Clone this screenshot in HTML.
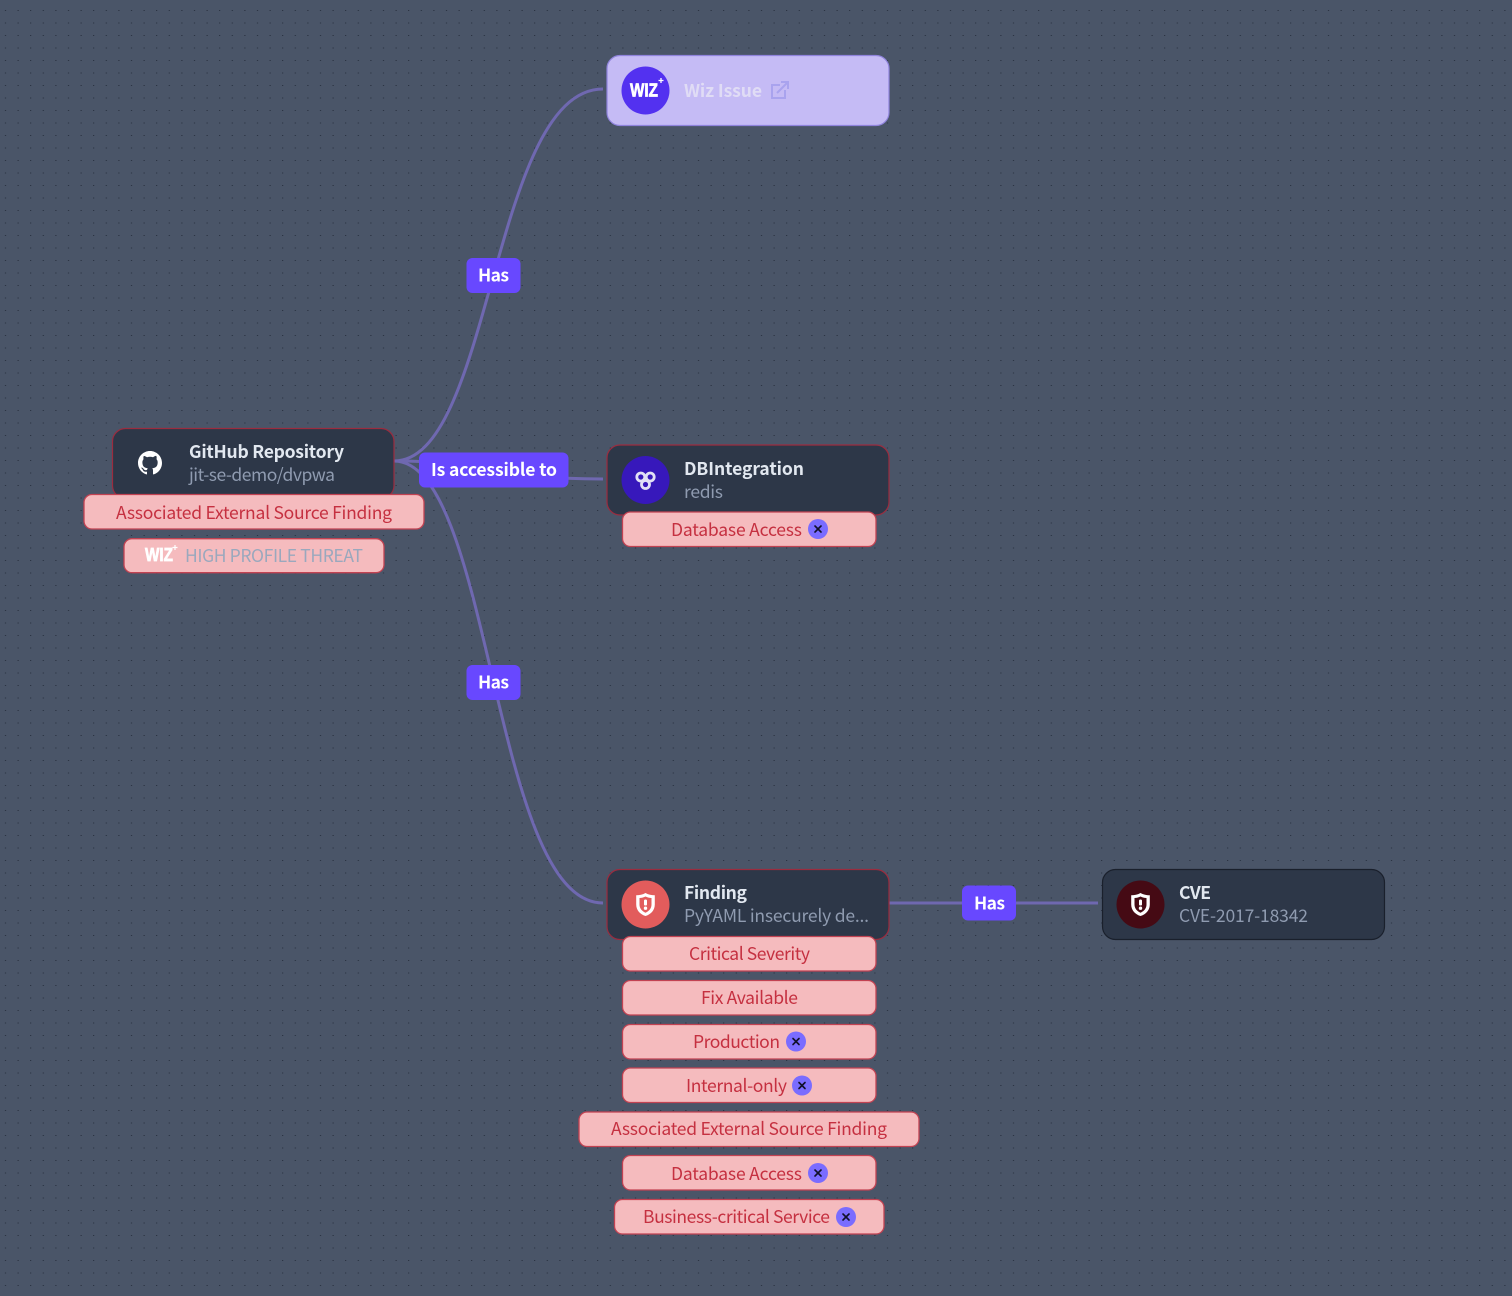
<!DOCTYPE html>
<html><head><meta charset="utf-8"><style>
html,body{margin:0;padding:0;background:#4a5568}
svg{display:block}
text{font-family:"Noto Sans CJK JP","Liberation Sans",sans-serif}
.t{font-size:17.5px;fill:#c53040}
.h{font-size:17.5px;font-weight:700;fill:#e2e8f0}
.s{font-size:17.5px;fill:#8f9bb0}
.l{font-size:17.5px;font-weight:700;fill:#fff}
.tag{fill:#f5bbbe;stroke:#c24252;stroke-width:1.3}
.node{fill:#2d3748;stroke:#9b2c3f;stroke-width:1.2}
.lab{fill:#6848ff}
.e{fill:none;stroke:#6f68b0;stroke-width:3}
.xb{fill:#7a6cff}
.x{stroke:#10102a;stroke-width:1.6;stroke-linecap:round}
.wiz{font-size:18px;font-weight:900;fill:#fff;stroke:#fff;stroke-width:.7;font-family:"Liberation Sans",sans-serif}
</style></head><body>
<svg width="1512" height="1296" viewBox="0 0 1512 1296" xmlns="http://www.w3.org/2000/svg">
<defs>
<pattern id="d" x="0" y="0" width="12.6" height="12.5" patternUnits="userSpaceOnUse"><rect x="5" y="10" width="1" height="1" fill="#242c3a"/></pattern>
<g id="shield"><path d="M0,-11.500 C3,-9.800 6,-9.200 9.300,-9.200 L9.300,0 C9.300,6 5,10 0,11.500 C-5,10 -9.300,6 -9.300,0 L-9.300,-9.200 C-6,-9.200 -3,-9.800 0,-11.500Z" fill="#fff"/><path d="M0,-8 C2,-7 4,-6.500 6,-6.500 L6,0 C6,4 3.300,6.800 0,8.200 C-3.300,6.800 -6,4 -6,0 L-6,-6.500 C-4,-6.500 -2,-7 0,-8Z" fill="currentColor"/><rect x="-1.500" y="-5" width="3" height="6" rx="1.300" fill="#fff"/><circle cx="0" cy="3.700" r="1.700" fill="#fff"/></g>
<g id="xx"><line x1="-3" y1="-3" x2="3" y2="3" class="x"/><line x1="3" y1="-3" x2="-3" y2="3" class="x"/></g>
</defs>
<rect width="1512" height="1296" fill="#4a5568"/>
<rect width="1512" height="1296" fill="url(#d)"/>

<path class="e" d="M394,461 C492,461 492,89 603,89"/>
<path class="e" d="M394,461 C492,461 492,479 603,479"/>
<path class="e" d="M394,461 C492,461 492,903 603,903"/>
<path class="e" d="M889,903 L1098,903"/>

<!-- Wiz Issue -->
<rect x="607" y="55.500" width="282" height="70" rx="13" fill="#c5bbf5" stroke="#8f83dc" stroke-width="1.200"/>
<circle cx="645.500" cy="90.500" r="24" fill="#5331f0"/>
<text x="630" y="96.500" class="wiz" textLength="28" lengthAdjust="spacingAndGlyphs">WIZ</text>
<path d="M661,78v5M658.500,80.500h5" stroke="#fff" stroke-width="1.300"/>
<text x="684" y="97" class="h" style="fill:#e0dcf5" textLength="78">Wiz Issue</text>
<g fill="none" stroke="#a9a3ee" stroke-width="2"><path d="M785,90 V98 H772 V85 H780"/><path d="M777,93 L788,82 M781,82 H788 V89"/></g>

<!-- GitHub -->
<rect x="112.500" y="428.500" width="281.500" height="70" rx="13" class="node"/>
<g transform="translate(138,451) scale(1.5)"><path fill="#fff" d="M8 0C3.580 0 0 3.580 0 8c0 3.540 2.290 6.530 5.470 7.590.4.070.55-.17.55-.38 0-.19-.01-.82-.01-1.490-2.010.37-2.530-.49-2.690-.94-.09-.23-.48-.94-.82-1.130-.28-.15-.68-.52-.01-.53.63-.01 1.080.58 1.230.82.720 1.210 1.870.87 2.330.66.070-.52.280-.87.510-1.070-1.780-.2-3.640-.89-3.640-3.950 0-.87.310-1.590.820-2.150-.08-.2-.36-1.020.08-2.120 0 0 .67-.21 2.200.82.640-.18 1.320-.27 2-.27s1.360.09 2 .27c1.530-1.040 2.200-.82 2.200-.82.440 1.100.160 1.920.080 2.120.51.560.82 1.270.82 2.150 0 3.070-1.870 3.750-3.650 3.950.29.25.54.73.54 1.480 0 1.070-.01 1.930-.01 2.200 0 .21.150.46.550.38A8.013 8.013 0 0016 8c0-4.420-3.580-8-8-8z"/></g>
<text x="189" y="458" class="h" textLength="155">GitHub Repository</text>
<text x="189" y="481" class="s" textLength="146">jit-se-demo/dvpwa</text>

<rect x="84" y="494.500" width="340" height="34.500" rx="8" class="tag"/>
<text x="116" y="519" class="t" textLength="276">Associated External Source Finding</text>
<rect x="124" y="538.700" width="260" height="34" rx="8" class="tag"/>
<text x="145" y="561" class="wiz" textLength="28" lengthAdjust="spacingAndGlyphs">WIZ</text>
<path d="M175,545v5M172.500,547.500h5" stroke="#fff" stroke-width="1.200"/>
<text x="185" y="562" class="t" style="fill:#9aa8bd" textLength="178">HIGH PROFILE THREAT</text>

<!-- DB -->
<rect x="607" y="445" width="282" height="70" rx="13" class="node"/>
<circle cx="645.500" cy="480" r="24" fill="#3718bb"/>
<g fill="none" stroke="#e2e0f5" stroke-width="2.800"><circle cx="640.800" cy="477" r="4"/><circle cx="650.200" cy="477" r="4"/><circle cx="645.500" cy="484.500" r="4"/></g>
<text x="684" y="475" class="h" textLength="120">DBIntegration</text>
<text x="684" y="498" class="s" textLength="39">redis</text>
<rect x="622.500" y="512" width="253.500" height="34.500" rx="8" class="tag"/>
<text x="671" y="536" class="t" textLength="131">Database Access</text>
<circle cx="818" cy="529" r="10" class="xb"/><use href="#xx" x="818" y="529"/>

<!-- Finding -->
<rect x="607" y="869.500" width="282" height="70" rx="13" class="node"/>
<circle cx="645.500" cy="904.500" r="24" fill="#e25c5c"/>
<use href="#shield" x="645.500" y="904.500" style="color:#e25c5c"/>
<text x="684" y="899" class="h" textLength="63">Finding</text>
<text x="684" y="922" class="s" textLength="185">PyYAML insecurely de...</text>

<rect x="622.500" y="936.500" width="253.500" height="34.500" rx="8" class="tag"/>
<text x="689" y="960" class="t" textLength="121">Critical Severity</text>
<rect x="622.500" y="980.500" width="253.500" height="34.500" rx="8" class="tag"/>
<text x="701" y="1004" class="t" textLength="97">Fix Available</text>
<rect x="622.500" y="1024.500" width="253.500" height="34.500" rx="8" class="tag"/>
<text x="693" y="1048" class="t" textLength="87">Production</text>
<circle cx="796" cy="1041.500" r="10" class="xb"/><use href="#xx" x="796" y="1041.500"/>
<rect x="622.500" y="1068" width="253.500" height="34.500" rx="8" class="tag"/>
<text x="686" y="1092" class="t" textLength="101">Internal-only</text>
<circle cx="802" cy="1085.500" r="10" class="xb"/><use href="#xx" x="802" y="1085.500"/>
<rect x="579" y="1112" width="340" height="34.500" rx="8" class="tag"/>
<text x="611" y="1135" class="t" textLength="276">Associated External Source Finding</text>
<rect x="622.500" y="1155.500" width="253.500" height="34.500" rx="8" class="tag"/>
<text x="671" y="1180" class="t" textLength="131">Database Access</text>
<circle cx="818" cy="1173" r="10" class="xb"/><use href="#xx" x="818" y="1173"/>
<rect x="614.500" y="1199.500" width="269.500" height="34.500" rx="8" class="tag"/>
<text x="643" y="1223" class="t" textLength="187">Business-critical Service</text>
<circle cx="846" cy="1217" r="10" class="xb"/><use href="#xx" x="846" y="1217"/>

<!-- CVE -->
<rect x="1102.500" y="869.500" width="282" height="70" rx="13" fill="#2d3748" stroke="#1a202c" stroke-width="1.200"/>
<circle cx="1140.500" cy="904.500" r="24" fill="#450a14"/>
<use href="#shield" x="1140.500" y="904.500" style="color:#450a14"/>
<text x="1179" y="899" class="h" textLength="32">CVE</text>
<text x="1179" y="922" class="s" textLength="129">CVE-2017-18342</text>

<!-- Labels -->
<rect x="466.500" y="258" width="54" height="35" rx="6" class="lab"/>
<text x="478" y="281.500" class="l" textLength="31">Has</text>
<rect x="419" y="452.500" width="149.500" height="35" rx="6" class="lab"/>
<text x="431" y="476" class="l" textLength="126">Is accessible to</text>
<rect x="466.500" y="665" width="54" height="35" rx="6" class="lab"/>
<text x="478" y="688.500" class="l" textLength="31">Has</text>
<rect x="962" y="885.500" width="54" height="35" rx="6" class="lab"/>
<text x="974" y="909.500" class="l" textLength="31">Has</text>
</svg>
</body></html>
